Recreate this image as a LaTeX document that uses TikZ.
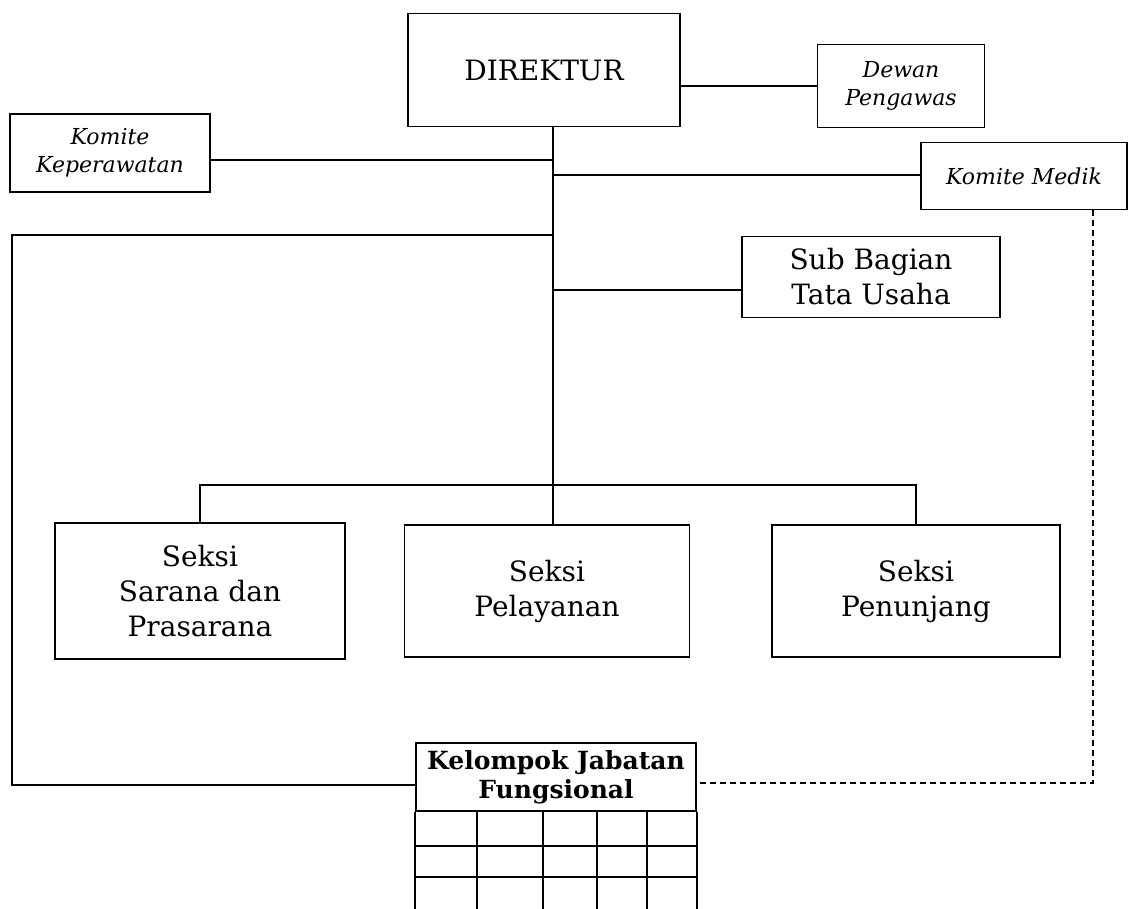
\documentclass[tikz,border=0pt]{standalone}
\usepackage{fontspec}
\setmainfont{DejaVu Serif}
\usepackage{tikz}
\usetikzlibrary{positioning}

\tikzset{
  unit/.style={draw, line width=1.8pt, align=center, inner sep=2pt},
  bigtext/.style={font=\fontsize{28}{35}\selectfont},
  itext/.style={font=\fontsize{22}{28}\selectfont\itshape},
  link/.style={line width=1.6pt}
}

\begin{document}
\begin{tikzpicture}[x=1pt, y=-1pt]
        \useasboundingbox (0,0) rectangle (1129,909);
        % NODES
        % -----------------

        \node[unit, font=\fontsize{28}{32}\selectfont, minimum width=272pt, minimum height=113pt] (direktur) at (544,70) {DIREKTUR};
        \node[unit, itext, minimum width=167pt, minimum height=83pt] (dewan) at (901,86) {Dewan\\Pengawas};
        \node[unit, itext, minimum width=200pt, minimum height=78pt] (kkep) at (110,153) {Komite\\Keperawatan};
        \node[unit, itext, minimum width=206pt, minimum height=67pt] (kmedik) at (1024,176) {Komite Medik};
        \node[unit, bigtext, minimum width=258pt, minimum height=81pt] (subbag) at (871,277) {Sub Bagian\\Tata Usaha};

        \node[unit, bigtext, minimum width=290pt, minimum height=136pt] (sarana) at (200,591) {Seksi\\Sarana dan\\Prasarana};
        \node[unit, bigtext, minimum width=285pt, minimum height=132pt] (pelayanan) at (547,591) {Seksi\\Pelayanan};
        \node[unit, bigtext, minimum width=288pt, minimum height=132pt] (penunjang) at (916,591) {Seksi\\Penunjang};

        % Kelompok jabatan fungsional (header + grid)
        \node[unit, minimum width=280pt, minimum height=68pt, font=\bfseries\fontsize{25}{29}\selectfont] (kjf) at (556,777) {Kelompok Jabatan\\Fungsional};
        \draw[line width=1.8pt] (kjf.south west) -- ++(0,98);
        \draw[line width=1.8pt] (kjf.south east) -- ++(0,98);
        \foreach \cx in {477,543,597,647}
          \draw[line width=1.6pt] (\cx,811) -- (\cx,909);
        \foreach \ry in {846,877}
          \draw[line width=1.6pt] (416,\ry) -- (696,\ry);

        % junctions on the trunk
        \coordinate (j_kkep) at (553,160);
        \coordinate (j_kmed) at (553,175);
        \coordinate (j_left) at (553,235);
        \coordinate (j_sub)  at (553,290);
        \coordinate (j_bar)  at (553,485);
        \coordinate (c_left) at (12,785);
        \coordinate (c_dash) at (1093,783);

        % EDGES
        % -----------------

        \draw[link] (direktur.south -| j_kkep) -- (pelayanan.north -| j_kkep);
        \draw[link] (direktur.east |- dewan.west) -- (dewan.west);
        \draw[link] (kkep.east |- j_kkep) -- (j_kkep);
        \draw[link] (j_kmed) -- (kmedik.west |- j_kmed);
        \draw[link] (j_sub) -- (subbag.west |- j_sub);
        \draw[link] (sarana.north) |- (j_bar) -| (penunjang.north);

        % staff lines to the functional group
        \draw[link] (j_left) -| (c_left) -- (kjf.west |- c_left);
        \draw[link, dashed, dash pattern=on 6pt off 4pt] (kmedik.south -| c_dash) -- (c_dash) -- (kjf.east |- c_dash);

\end{tikzpicture}
\end{document}
